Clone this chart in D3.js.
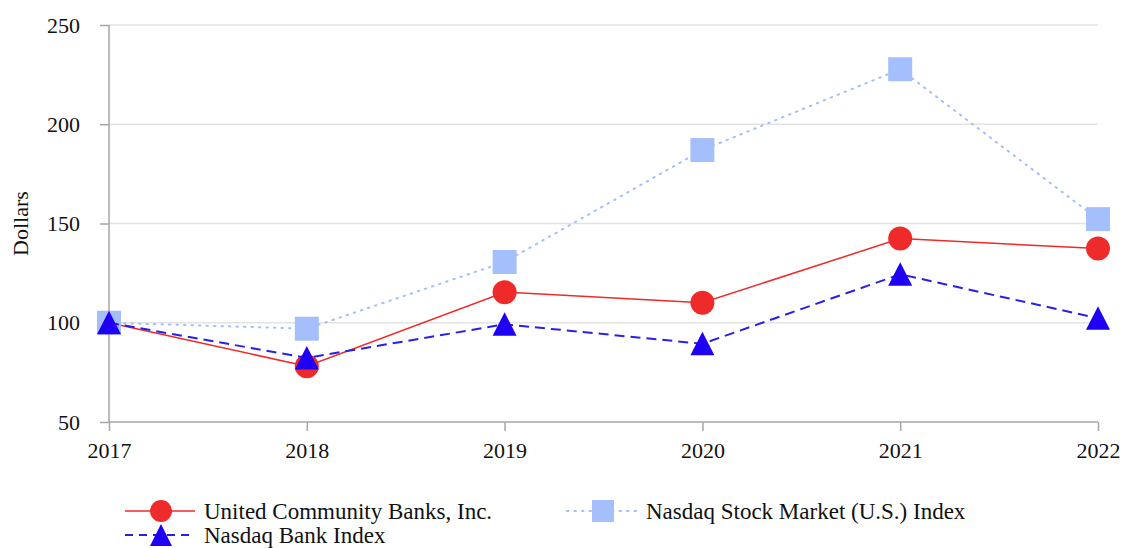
<!DOCTYPE html>
<html>
<head>
<meta charset="utf-8">
<script src="https://cdn.jsdelivr.net/npm/d3@7"></script>
<style>
  body { margin: 0; background: #fff; }
  svg { display: block; font-family: 'Liberation Serif', 'Times New Roman', serif; }
</style>
</head>
<body>
<div id="chart"></div>
<script>
const years = ['2017', '2018', '2019', '2020', '2021', '2022']
const ucbValues = [100, 78.1, 115.4, 110.1, 142.4, 137.4]
const stockMarketValues = [100, 97, 130.6, 187, 227.7, 152.2]
const bankIndexValues = [100, 82.3, 99.2, 89.4, 124.4, 102.3]
const yTicks = [50, 100, 150, 200, 250]

const series = [
  { name: 'United Community Banks, Inc.', values: ucbValues, color: '#ee2a2a', markerColor: '#ee2a2a', dash: null, width: 1.5, marker: 'circle' },
  { name: 'Nasdaq Stock Market (U.S.) Index', values: stockMarketValues, color: '#a4bffc', markerColor: '#a4bffc', dash: '1.5 6', width: 2, marker: 'square' },
  { name: 'Nasdaq Bank Index', values: bankIndexValues, color: '#2a1fe6', markerColor: '#1f00f5', dash: '10 6', width: 2, marker: 'triangle' },
]

const width = 1122
const height = 548
const margin = { top: 25, right: 24, bottom: 126, left: 109 }

const svg = d3.select('#chart')
  .append('svg')
  .attr('width', width)
  .attr('height', height)

const xScale = d3.scalePoint()
  .domain(years)
  .range([margin.left, width - margin.right])

const yScale = d3.scaleLinear()
  .domain([50, 250])
  .range([height - margin.bottom, margin.top])

// grid lines
svg.append('g')
  .attr('class', 'grid')
  .selectAll('line')
  .data(yTicks.filter(d => d !== 50))
  .join('line')
  .attr('x1', margin.left)
  .attr('x2', width - margin.right)
  .attr('y1', d => yScale(d))
  .attr('y2', d => yScale(d))
  .attr('stroke', '#e3e3e3')
  .attr('stroke-width', 1.5)

// y axis
svg.append('g')
  .attr('class', 'y-axis')
  .attr('transform', `translate(${margin.left}, 0)`)
  .call(d3.axisLeft(yScale).tickValues(yTicks).tickSize(9).tickPadding(20))
  .call(g => {
    g.selectAll('.domain').attr('stroke', '#a6a6a6').attr('stroke-width', 1.5)
      .attr('d', `M0,${yScale(250)}V${yScale(50)}`)
    g.selectAll('.tick line').attr('stroke', '#a6a6a6').attr('stroke-width', 1.5)
    g.selectAll('.tick text').attr('fill', '#111').style('font-size', '22px')
      .style('font-family', 'Liberation Serif')
  })

// x axis
svg.append('g')
  .attr('class', 'x-axis')
  .attr('transform', `translate(0, ${yScale(50)})`)
  .call(d3.axisBottom(xScale).tickSize(9).tickPadding(11))
  .call(g => {
    g.selectAll('.domain').attr('stroke', '#a6a6a6').attr('stroke-width', 1.5)
      .attr('d', `M${margin.left},0H${width - margin.right}`)
    g.selectAll('.tick line').attr('stroke', '#a6a6a6').attr('stroke-width', 1.5)
    g.selectAll('.tick text').attr('fill', '#111').style('font-size', '22px')
      .style('font-family', 'Liberation Serif')
  })

// y-axis label
svg.append('text')
  .attr('transform', `translate(21, ${yScale(150)}) rotate(-90)`)
  .attr('text-anchor', 'middle')
  .attr('dy', '0.33em')
  .style('font-size', '22px')
  .attr('fill', '#111')
  .text('Dollars')

const line = d3.line()
  .x((d, i) => xScale(years[i]))
  .y(d => yScale(d))

function drawMarker(g, type, color) {
  if (type === 'circle') {
    g.append('circle').attr('r', 12).attr('fill', color)
  } else if (type === 'square') {
    g.append('rect').attr('x', -12).attr('y', -12).attr('width', 24).attr('height', 24).attr('fill', color)
  } else {
    g.append('path').attr('d', 'M0,-12L12,11.5L-12,11.5Z').attr('fill', color)
  }
}

series.forEach(s => {
  const g = svg.append('g').attr('class', 'series')
  g.append('path')
    .attr('d', line(s.values))
    .attr('fill', 'none')
    .attr('stroke', s.color)
    .attr('stroke-width', s.width)
    .attr('stroke-dasharray', s.dash)
    .attr('stroke-linecap', s.marker === 'square' ? 'round' : 'butt')

  g.selectAll('g.marker')
    .data(s.values)
    .join('g')
    .attr('class', 'marker')
    .attr('transform', (d, i) => `translate(${xScale(years[i])}, ${yScale(d)})`)
    .each(function () {
      drawMarker(d3.select(this), s.marker, s.markerColor)
    })
})

// legend
const legendItems = [
  { s: series[0], x: 125, y: 511 },
  { s: series[1], x: 567, y: 511 },
  { s: series[2], x: 125, y: 535 },
]

const legend = svg.append('g').attr('class', 'legend')
legendItems.forEach(({ s, x, y }) => {
  const g = legend.append('g').attr('transform', `translate(${x}, ${y})`)
  g.append('line')
    .attr('x1', 0).attr('x2', 70)
    .attr('stroke', s.color)
    .attr('stroke-width', s.width)
    .attr('stroke-dasharray', s.marker === 'triangle' ? '8 6' : s.dash)
    .attr('stroke-linecap', s.marker === 'square' ? 'round' : 'butt')
  const m = g.append('g').attr('transform', 'translate(36, 0)')
  if (s.marker === 'circle') m.append('circle').attr('r', 11).attr('fill', s.markerColor)
  else if (s.marker === 'square') m.append('rect').attr('x', -11).attr('y', -11).attr('width', 22).attr('height', 22).attr('fill', s.markerColor)
  else m.append('path').attr('d', 'M0,-11L11,11L-11,11Z').attr('fill', s.markerColor)
  g.append('text')
    .attr('x', 79)
    .attr('dy', '0.33em')
    .style('font-size', '23px')
    .attr('fill', '#111')
    .text(s.name)
})
</script>
</body>
</html>
